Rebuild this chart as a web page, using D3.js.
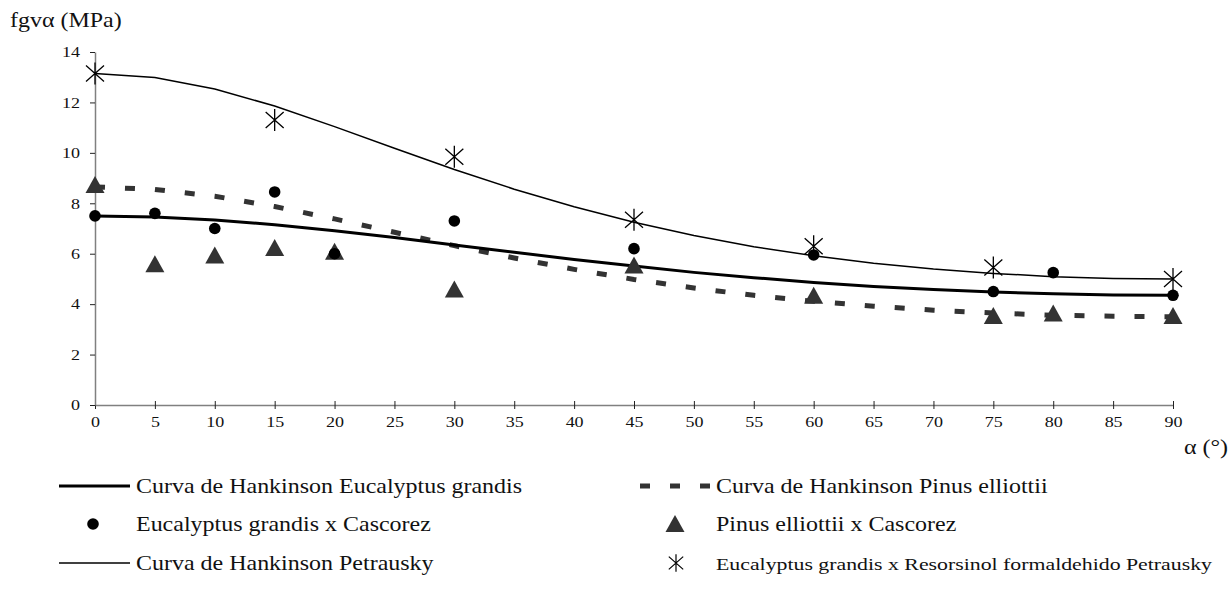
<!DOCTYPE html>
<html>
<head>
<meta charset="utf-8">
<script src="https://cdn.jsdelivr.net/npm/d3@7"></script>
</head>
<body style="margin:0;background:#fff">
<div class="chart"></div>
<script>
// angles where the Hankinson curves are drawn
var curveAngles = [0,5,10,15,20,25,30,35,40,45,50,55,60,65,70,75,80,85,90];
var hankEucalyptus = [7.5,7.46,7.34,7.15,6.91,6.64,6.35,6.06,5.77,5.51,5.26,5.05,4.86,4.70,4.58,4.48,4.41,4.36,4.35];
var hankPinus = [8.65,8.55,8.28,7.87,7.38,6.85,6.32,5.83,5.38,4.98,4.64,4.35,4.11,3.92,3.76,3.65,3.56,3.52,3.5];
var hankPetrausky = [13.15,12.99,12.53,11.86,11.04,10.18,9.34,8.56,7.86,7.25,6.72,6.28,5.92,5.62,5.39,5.22,5.09,5.02,5.0];

// test points
var testAngles = [0,5,10,15,20,30,45,60,75,80,90];
var eucCascorez = [7.5,7.6,7.0,8.45,6.0,7.3,6.2,5.95,4.5,5.25,4.35];
var pinCascorez = [8.65,5.5,5.85,6.15,6.0,4.5,5.45,4.25,3.45,3.55,3.45];
var petrAngles = [0,15,30,45,60,75,90];
var petrValues = [13.15,11.3,9.85,7.35,6.3,5.45,5.0];

// ticks
var xTicks = d3.range(0, 91, 5);
var yTicks = [0,2,4,6,8,10,12,14];

var legendLabels = [
  "Curva de Hankinson Eucalyptus grandis",
  "Eucalyptus grandis x Cascorez",
  "Curva de Hankinson Petrausky",
  "Curva de Hankinson Pinus elliottii",
  "Pinus elliottii x Cascorez",
  "Eucalyptus grandis x Resorsinol formaldehido Petrausky"
];

var W = 1231, H = 592;
var FONT = "'Liberation Serif', serif";
var stretch = "scale(1.2,1)";
var bigStretch = "scale(1.09,1)";

var svg = d3.select(".chart").append("svg")
    .attr("width", W)
    .attr("height", H);

var x = d3.scaleLinear().domain([0, 90]).range([95, 1173]);
var y = d3.scaleLinear().domain([0, 14]).range([405, 52]);

// axes
var xAxis = svg.append("g")
    .attr("transform", "translate(0," + y(0) + ")")
    .call(d3.axisBottom(x).tickValues(xTicks).tickSizeOuter(0).tickFormat(d3.format("d")));
xAxis.select(".domain").attr("stroke", "#808080").attr("stroke-width", 1.5);
xAxis.selectAll(".tick line").attr("y1", -4).attr("y2", 4).attr("stroke", "#222");
xAxis.selectAll(".tick text")
    .attr("y", 11)
    .attr("font-size", 15)
    .style("font-family", FONT)
    .attr("fill", "#111")
    .attr("transform", stretch);

var yAxis = svg.append("g")
    .attr("transform", "translate(" + x(0) + ",0)")
    .call(d3.axisLeft(y).tickValues(yTicks).tickSize(5).tickSizeOuter(0));
yAxis.select(".domain").attr("stroke", "#808080").attr("stroke-width", 1.5);
yAxis.selectAll(".tick line").attr("stroke", "#222");
yAxis.selectAll(".tick text")
    .attr("x", -12.5)
    .attr("font-size", 15)
    .style("font-family", FONT)
    .attr("fill", "#111")
    .attr("transform", stretch);

// axis titles
svg.append("text")
   .attr("transform", "translate(10,27) " + bigStretch)
   .attr("font-size", 22)
   .style("font-family", FONT)
   .attr("fill", "#111")
   .text("fgvα (MPa)");

svg.append("text")
   .attr("transform", "translate(1184,454) " + bigStretch)
   .attr("font-size", 22)
   .style("font-family", FONT)
   .attr("fill", "#111")
   .text("α (°)");

// curves
function curve(vals) {
  return d3.line()
    .x(function(d, i) { return x(curveAngles[i]); })
    .y(function(d) { return y(d); })(vals);
}

svg.append("path")
   .attr("d", curve(hankPinus))
   .attr("fill", "none")
   .attr("stroke", "#333")
   .attr("stroke-width", 5)
   .attr("stroke-dasharray", "10,20");

svg.append("path")
   .attr("d", curve(hankEucalyptus))
   .attr("fill", "none")
   .attr("stroke", "#000")
   .attr("stroke-width", 3);

svg.append("path")
   .attr("d", curve(hankPetrausky))
   .attr("fill", "none")
   .attr("stroke", "#000")
   .attr("stroke-width", 1.5);

// markers
var triPath = "M0,-11L9.5,6L-9.5,6Z";
var starPath = "M-9,-8L9,8M-9,8L9,-8M0,-11V11";

svg.append("g").selectAll("path")
   .data(pinCascorez)
   .enter().append("path")
   .attr("d", triPath)
   .attr("transform", function(d, i) { return "translate(" + x(testAngles[i]) + "," + y(d) + ")"; })
   .attr("fill", "#333");

svg.append("g").selectAll("circle")
   .data(eucCascorez)
   .enter().append("circle")
   .attr("cx", function(d, i) { return x(testAngles[i]); })
   .attr("cy", function(d) { return y(d); })
   .attr("r", 5.8)
   .attr("fill", "#000");

svg.append("g").selectAll("path")
   .data(petrValues)
   .enter().append("path")
   .attr("d", starPath)
   .attr("transform", function(d, i) { return "translate(" + x(petrAngles[i]) + "," + y(d) + ")"; })
   .attr("fill", "none")
   .attr("stroke", "#000")
   .attr("stroke-width", 1.3);

// legend
var rows = [486, 524, 563];
var leg = svg.append("g");

leg.append("line").attr("x1", 59).attr("x2", 130).attr("y1", rows[0]).attr("y2", rows[0])
   .attr("stroke", "#000").attr("stroke-width", 3);
leg.append("circle").attr("cx", 93).attr("cy", rows[1]).attr("r", 5.8).attr("fill", "#000");
leg.append("line").attr("x1", 59).attr("x2", 130).attr("y1", rows[2]).attr("y2", rows[2])
   .attr("stroke", "#000").attr("stroke-width", 1.5);

leg.append("line").attr("x1", 640).attr("x2", 712).attr("y1", rows[0]).attr("y2", rows[0])
   .attr("stroke", "#333").attr("stroke-width", 5).attr("stroke-dasharray", "10,20");
leg.append("path").attr("d", triPath).attr("transform", "translate(675," + (rows[1] + 2) + ")").attr("fill", "#333");
leg.append("path").attr("d", starPath).attr("transform", "translate(676," + rows[2] + ") scale(0.8)")
   .attr("fill", "none").attr("stroke", "#000").attr("stroke-width", 1.5);

legendLabels.forEach(function(t, i) {
  var col = i < 3 ? 136 : 716;
  var ry = rows[i % 3] + 7;
  var small = i === 5;
  leg.append("text")
     .attr("transform", "translate(" + col + "," + ry + ") " + (small ? "scale(1,1)" : bigStretch))
     .attr("font-size", small ? 17 : 22)
     .style("font-family", FONT)
     .attr("fill", "#111")
     .attr("textLength", small ? 496 : null)
     .attr("lengthAdjust", "spacingAndGlyphs")
     .text(t);
});
</script>
</body>
</html>
